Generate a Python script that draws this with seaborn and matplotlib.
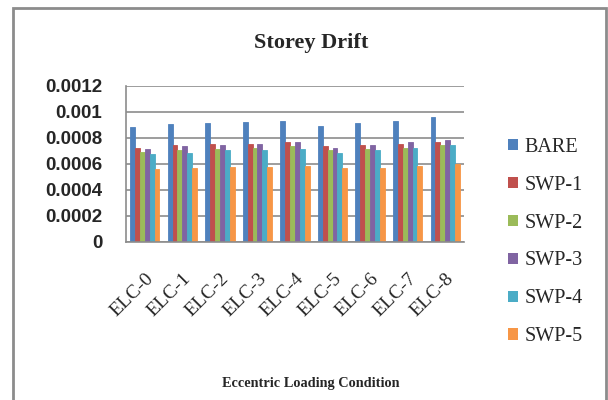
import numpy as np
import matplotlib
matplotlib.use("Agg")
import matplotlib.pyplot as plt
import matplotlib.transforms as mtrans
from matplotlib.patches import Rectangle
import pandas as pd
import seaborn as sns

# values
conditions = ["ELC-0", "ELC-1", "ELC-2", "ELC-3", "ELC-4", "ELC-5", "ELC-6", "ELC-7", "ELC-8"]
series = ["BARE", "SWP-1", "SWP-2", "SWP-3", "SWP-4", "SWP-5"]
bare = [0.000882, 0.000905, 0.000915, 0.000923, 0.000933, 0.000895, 0.000915, 0.000933, 0.000962]
swp1 = [0.000726, 0.000746, 0.000756, 0.000756, 0.000767, 0.000736, 0.000746, 0.000756, 0.000767]
swp2 = [0.000695, 0.000705, 0.000715, 0.000726, 0.000736, 0.000705, 0.000715, 0.000726, 0.000746]
swp3 = [0.000715, 0.000736, 0.000746, 0.000756, 0.000767, 0.000726, 0.000746, 0.000767, 0.000785]
swp4 = [0.000677, 0.000687, 0.000705, 0.000705, 0.000715, 0.000687, 0.000705, 0.000726, 0.000746]
swp5 = [0.000559, 0.000569, 0.000579, 0.000577, 0.000587, 0.000569, 0.000569, 0.000587, 0.000597]
yticks = [0, 0.0002, 0.0004, 0.0006, 0.0008, 0.001, 0.0012]
colors = ["#4F81BD", "#C0504D", "#9BBB59", "#8064A2", "#4BACC6", "#F79646"]

rows = []
for name, vals in zip(series, [bare, swp1, swp2, swp3, swp4, swp5]):
    for c, v in zip(conditions, vals):
        rows.append({"Condition": c, "Series": name, "Drift": v})
df = pd.DataFrame(rows)

sns.set_style("white")
plt.rcParams["font.family"] = ["Liberation Serif", "DejaVu Serif"]

fig = plt.figure(figsize=(6.08, 4.0), dpi=100)
ax = fig.add_axes([126/608, 1-242/400, (464-126)/608, (242-86)/400])

sns.barplot(data=df, x="Condition", y="Drift", hue="Series", palette=colors,
            width=0.78, gap=0, saturation=1, ax=ax, errorbar=None, legend=False)
# make neighbouring bars touch like the excel chart
for p in ax.patches:
    p.set_edgecolor(p.get_facecolor())
    p.set_linewidth(0.6)

ax.set_ylim(0, 0.0012)
ax.set_yticks(yticks)
ax.set_yticklabels([f"{v:g}" for v in yticks], fontsize=13.5, fontweight="bold",
                   family="Liberation Sans")
ax.set_xticks(range(len(conditions)))
ax.set_xticklabels(conditions, rotation=45, ha="right", rotation_mode="anchor", fontsize=14)
# nudge the rotated labels a little to the left
shift = mtrans.ScaledTranslation(-5/100, 0, fig.dpi_scale_trans)
for lab in ax.get_xticklabels():
    lab.set_transform(lab.get_transform() + shift)
ax.set_xlim(-0.5, len(conditions)-0.5)
ax.set_xlabel("")
ax.set_ylabel("")
ax.yaxis.grid(True, color="#8c8c8c", lw=1.2)
ax.set_axisbelow(True)
for s in ["top", "right"]:
    ax.spines[s].set_visible(False)
for s in ["left", "bottom"]:
    ax.spines[s].set_color("#8c8c8c")
    ax.spines[s].set_linewidth(1.2)
ax.tick_params(axis="y", direction="out", length=6, color="#8c8c8c", width=1.2, pad=11)
ax.tick_params(axis="x", length=0, pad=20)

fig.text(311/608, 1-43/400, "Storey Drift", ha="center", va="center", fontsize=16, fontweight="bold")
fig.text(311/608, 1-383/400, "Eccentric Loading Condition", ha="center", va="center", fontsize=10.3, fontweight="bold")

handles = [Rectangle((0, 0), 1, 1, fc=c, ec="none") for c in colors]
fig.legend(handles, series, loc="center left", bbox_to_anchor=(498/608, 1-242/400),
           frameon=False, fontsize=14.5, handlelength=0.5, handleheight=0.5,
           handletextpad=0.3, labelspacing=0.94, borderpad=0)

fig.patches.append(Rectangle((13/608, -0.02), 593/608, 0.02+1-8/400, transform=fig.transFigure,
                             fill=False, ec="#8c8c8c", lw=2))

fig.savefig("out.png", dpi=100)
